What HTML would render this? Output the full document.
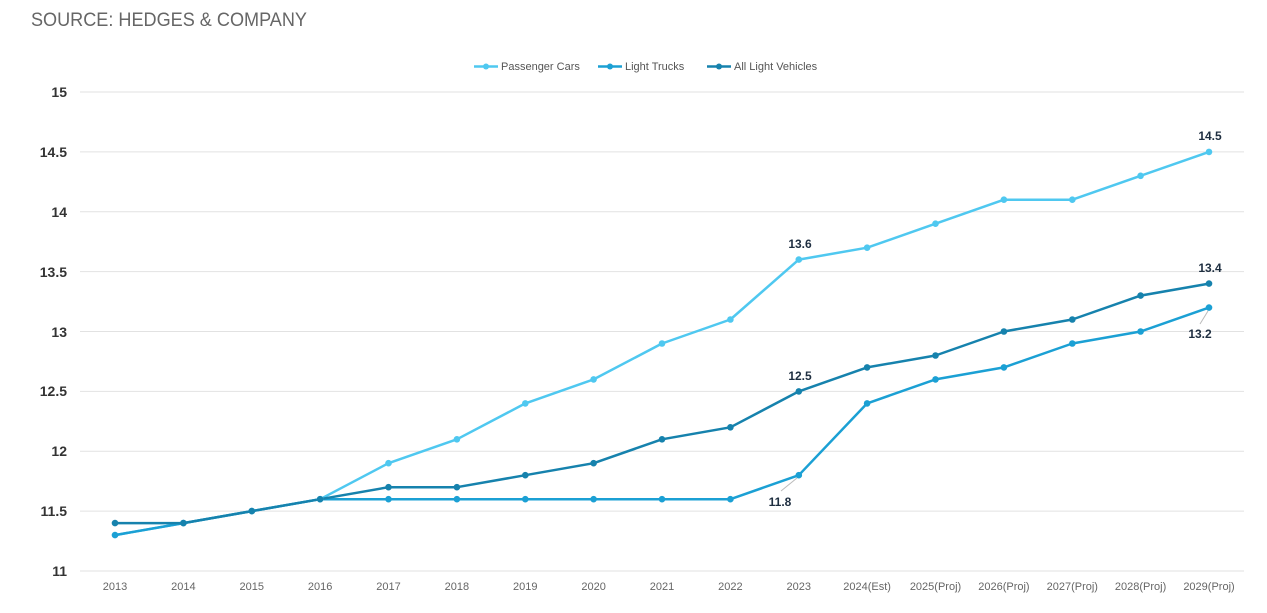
<!DOCTYPE html>
<html><head><meta charset="utf-8"><style>
body{margin:0;background:#fff;}
svg{display:block;font-family:"Liberation Sans",sans-serif;}
</style></head><body>
<svg width="1267" height="613" xmlns="http://www.w3.org/2000/svg">
<text x="31" y="26" font-size="19" fill="#666" textLength="276" lengthAdjust="spacingAndGlyphs">SOURCE: HEDGES &amp; COMPANY</text>
<g font-size="11" fill="#555">
<line x1="474" y1="66.5" x2="498" y2="66.5" stroke="#4fc8f0" stroke-width="2.5"/><circle cx="486" cy="66.5" r="3" fill="#4fc8f0"/>
<text x="501" y="70">Passenger Cars</text>
<line x1="598" y1="66.5" x2="622" y2="66.5" stroke="#1ba0d4" stroke-width="2.5"/><circle cx="610" cy="66.5" r="3" fill="#1ba0d4"/>
<text x="625" y="70">Light Trucks</text>
<line x1="707" y1="66.5" x2="731" y2="66.5" stroke="#1682ad" stroke-width="2.5"/><circle cx="719" cy="66.5" r="3" fill="#1682ad"/>
<text x="734" y="70">All Light Vehicles</text>
</g>
<g stroke="#e2e2e2" stroke-width="1">
<line x1="80" x2="1244" y1="92" y2="92"/><line x1="80" x2="1244" y1="151.9" y2="151.9"/>
<line x1="80" x2="1244" y1="211.7" y2="211.7"/><line x1="80" x2="1244" y1="271.6" y2="271.6"/>
<line x1="80" x2="1244" y1="331.5" y2="331.5"/><line x1="80" x2="1244" y1="391.4" y2="391.4"/>
<line x1="80" x2="1244" y1="451.3" y2="451.3"/><line x1="80" x2="1244" y1="511.1" y2="511.1"/>
<line x1="80" x2="1244" y1="571" y2="571"/>
</g>
<g font-size="14" font-weight="bold" fill="#333" text-anchor="end">
<text x="67" y="97">15</text><text x="67" y="157">14.5</text><text x="67" y="217">14</text>
<text x="67" y="277">13.5</text><text x="67" y="337">13</text><text x="67" y="396">12.5</text>
<text x="67" y="456">12</text><text x="67" y="516">11.5</text><text x="67" y="576">11</text>
</g>
<g font-size="11" fill="#666" text-anchor="middle">
<text x="115" y="590">2013</text><text x="183.4" y="590">2014</text><text x="251.8" y="590">2015</text>
<text x="320.1" y="590">2016</text><text x="388.5" y="590">2017</text><text x="456.9" y="590">2018</text>
<text x="525.3" y="590">2019</text><text x="593.6" y="590">2020</text><text x="662" y="590">2021</text>
<text x="730.4" y="590">2022</text><text x="798.8" y="590">2023</text><text x="867.1" y="590">2024(Est)</text>
<text x="935.5" y="590">2025(Proj)</text><text x="1003.9" y="590">2026(Proj)</text><text x="1072.3" y="590">2027(Proj)</text>
<text x="1140.6" y="590">2028(Proj)</text><text x="1209" y="590">2029(Proj)</text>
</g>
<g fill="none" stroke-width="2.5" stroke-linejoin="round">
<polyline stroke="#4fc8f0" points="115,535.1 183.4,523.1 251.8,511.1 320.1,499.2 388.5,463.2 456.9,439.3 525.3,403.4 593.6,379.4 662,343.5 730.4,319.5 798.8,259.6 867.1,247.7 935.5,223.7 1003.9,199.7 1072.3,199.7 1140.6,175.8 1209,151.9"/>
<polyline stroke="#1ba0d4" points="115,535.1 183.4,523.1 251.8,511.1 320.1,499.2 388.5,499.2 456.9,499.2 525.3,499.2 593.6,499.2 662,499.2 730.4,499.2 798.8,475.2 867.1,403.4 935.5,379.4 1003.9,367.4 1072.3,343.5 1140.6,331.5 1209,307.6"/>
<polyline stroke="#1682ad" points="115,523.1 183.4,523.1 251.8,511.1 320.1,499.2 388.5,487.2 456.9,487.2 525.3,475.2 593.6,463.2 662,439.3 730.4,427.3 798.8,391.4 867.1,367.4 935.5,355.5 1003.9,331.5 1072.3,319.5 1140.6,295.6 1209,283.6"/>
</g>
<g fill="#4fc8f0">
<circle cx="320.1" cy="499.2" r="3.3"/><circle cx="388.5" cy="463.2" r="3.3"/><circle cx="456.9" cy="439.3" r="3.3"/><circle cx="525.3" cy="403.4" r="3.3"/><circle cx="593.6" cy="379.4" r="3.3"/><circle cx="662" cy="343.5" r="3.3"/><circle cx="730.4" cy="319.5" r="3.3"/><circle cx="798.8" cy="259.6" r="3.3"/><circle cx="867.1" cy="247.7" r="3.3"/><circle cx="935.5" cy="223.7" r="3.3"/><circle cx="1003.9" cy="199.7" r="3.3"/><circle cx="1072.3" cy="199.7" r="3.3"/><circle cx="1140.6" cy="175.8" r="3.3"/><circle cx="1209" cy="151.9" r="3.3"/>
</g>
<g fill="#1ba0d4">
<circle cx="115" cy="535.1" r="3.3"/><circle cx="183.4" cy="523.1" r="3.3"/><circle cx="251.8" cy="511.1" r="3.3"/><circle cx="388.5" cy="499.2" r="3.3"/><circle cx="456.9" cy="499.2" r="3.3"/><circle cx="525.3" cy="499.2" r="3.3"/><circle cx="593.6" cy="499.2" r="3.3"/><circle cx="662" cy="499.2" r="3.3"/><circle cx="730.4" cy="499.2" r="3.3"/><circle cx="798.8" cy="475.2" r="3.3"/><circle cx="867.1" cy="403.4" r="3.3"/><circle cx="935.5" cy="379.4" r="3.3"/><circle cx="1003.9" cy="367.4" r="3.3"/><circle cx="1072.3" cy="343.5" r="3.3"/><circle cx="1140.6" cy="331.5" r="3.3"/><circle cx="1209" cy="307.6" r="3.3"/>
</g>
<g fill="#1682ad">
<circle cx="115" cy="523.1" r="3.3"/><circle cx="183.4" cy="523.1" r="3.3"/><circle cx="251.8" cy="511.1" r="3.3"/><circle cx="320.1" cy="499.2" r="3.3"/><circle cx="388.5" cy="487.2" r="3.3"/><circle cx="456.9" cy="487.2" r="3.3"/><circle cx="525.3" cy="475.2" r="3.3"/><circle cx="593.6" cy="463.2" r="3.3"/><circle cx="662" cy="439.3" r="3.3"/><circle cx="730.4" cy="427.3" r="3.3"/><circle cx="798.8" cy="391.4" r="3.3"/><circle cx="867.1" cy="367.4" r="3.3"/><circle cx="935.5" cy="355.5" r="3.3"/><circle cx="1003.9" cy="331.5" r="3.3"/><circle cx="1072.3" cy="319.5" r="3.3"/><circle cx="1140.6" cy="295.6" r="3.3"/><circle cx="1209" cy="283.6" r="3.3"/>
</g>
<g stroke="#bbb" stroke-width="1">
<line x1="781" y1="491" x2="797" y2="478"/>
<line x1="1200" y1="324" x2="1208" y2="311"/>
</g>
<g font-size="12" font-weight="bold" fill="#1e2e40" text-anchor="middle">
<text x="800" y="248">13.6</text>
<text x="800" y="380">12.5</text>
<text x="780" y="506">11.8</text>
<text x="1210" y="140">14.5</text>
<text x="1210" y="272">13.4</text>
<text x="1200" y="338">13.2</text>
</g>
</svg>
</body></html>
